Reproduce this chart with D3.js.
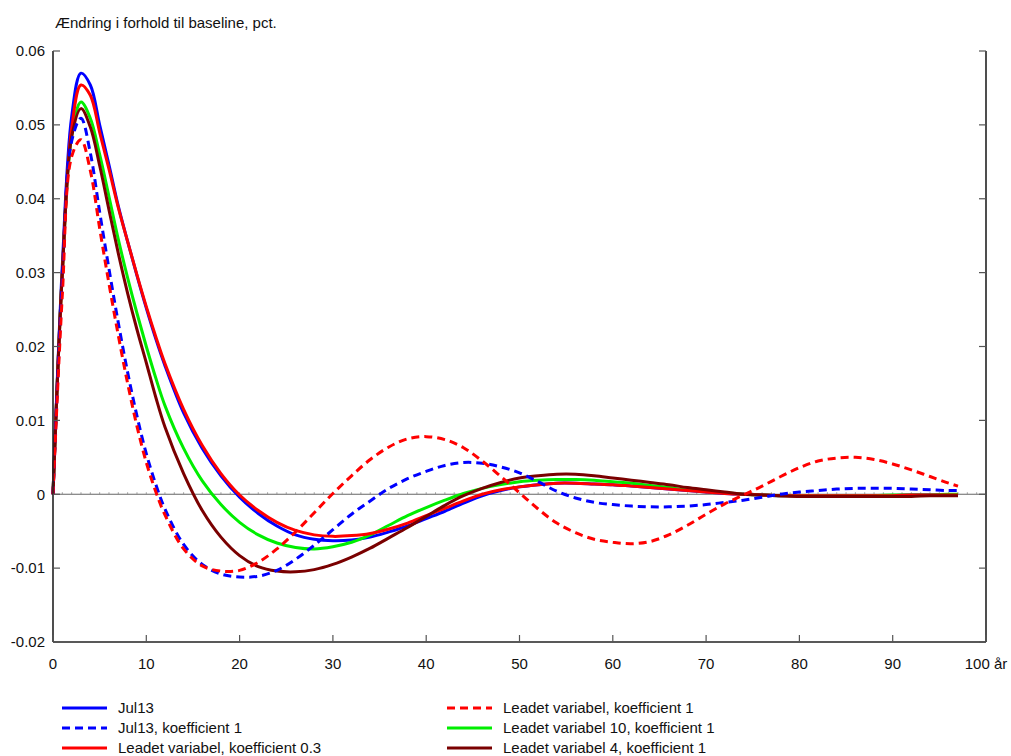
<!DOCTYPE html>
<html><head><meta charset="utf-8">
<script src="https://cdn.jsdelivr.net/npm/d3@7"></script>
<style>
body{margin:0;background:#fff;}
text{font-family:"Liberation Sans",Arial,sans-serif;fill:#111;}
</style></head>
<body><svg id="c" width="1011" height="756"></svg>
<script>
const years = [0,1,2,3,4,5,6,7,8,9,10,11,12,14,16,18,20,22,24,26,28,30,32,34,36,38,40,42,44,46,48,50,52,54,56,58,60,62,64,66,68,70,72,74,76,78,80,82,84,86,88,90,92,94,96,97];

const jul13 = [0,0.031,0.0511,0.0570,0.0554,0.0500,0.0446,0.0390,0.0342,0.0296,0.0252,0.0211,0.0174,0.0110,0.0062,0.0025,-0.0004,-0.0026,-0.0043,-0.0055,-0.0061,-0.0063,-0.0062,-0.0058,-0.0051,-0.0043,-0.0033,-0.0023,-0.0012,-0.0002,0.0005,0.0010,0.0013,0.0015,0.0015,0.0014,0.0013,0.0011,0.0009,0.0007,0.0005,0.0003,0.0001,0.0000,-0.0001,-0.0002,-0.0002,-0.0002,-0.0002,-0.0002,-0.0002,-0.0002,-0.0001,-0.0001,-0.0001,-0.0001];

const jul13Koef1 = [0,0.029,0.0478,0.0509,0.0462,0.0382,0.0305,0.0232,0.0165,0.0106,0.0055,0.0014,-0.0020,-0.0068,-0.0095,-0.0108,-0.0112,-0.0111,-0.0103,-0.0088,-0.0069,-0.0048,-0.0027,-0.0009,0.0008,0.0021,0.0031,0.0039,0.0043,0.0042,0.0037,0.0029,0.0017,0.0004,-0.0005,-0.0011,-0.0014,-0.0016,-0.0017,-0.0017,-0.0016,-0.0014,-0.0011,-0.0008,-0.0004,0.0000,0.0003,0.0005,0.0007,0.0008,0.0008,0.0008,0.0007,0.0006,0.0005,0.0005];

const leadKoef03 = [0,0.030,0.0495,0.0554,0.0540,0.0490,0.0440,0.0388,0.0342,0.0297,0.0254,0.0214,0.0177,0.0115,0.0066,0.0028,-0.0001,-0.0022,-0.0038,-0.0049,-0.0055,-0.0057,-0.0056,-0.0053,-0.0047,-0.0039,-0.0029,-0.0019,-0.0009,0.0000,0.0006,0.0010,0.0013,0.0015,0.0015,0.0014,0.0013,0.0011,0.0009,0.0007,0.0005,0.0003,0.0001,0.0000,-0.0001,-0.0002,-0.0002,-0.0002,-0.0002,-0.0002,-0.0002,-0.0002,-0.0001,-0.0001,-0.0001,-0.0001];

const leadKoef1 = [0,0.027,0.0457,0.0480,0.0438,0.0360,0.0285,0.0215,0.0150,0.0092,0.0043,0.0004,-0.0028,-0.0074,-0.0097,-0.0104,-0.0103,-0.0092,-0.0074,-0.0051,-0.0025,0.0001,0.0025,0.0047,0.0064,0.0075,0.0078,0.0074,0.0063,0.0045,0.0024,0.0002,-0.0020,-0.0039,-0.0052,-0.0061,-0.0065,-0.0067,-0.0064,-0.0055,-0.0042,-0.0027,-0.0013,-0.0001,0.0011,0.0024,0.0036,0.0045,0.0049,0.0050,0.0047,0.0041,0.0033,0.0024,0.0015,0.0011];

const lead10Koef1 = [0,0.030,0.0485,0.0531,0.0509,0.0460,0.0403,0.0345,0.0293,0.0245,0.0200,0.0158,0.0120,0.0062,0.0018,-0.0014,-0.0038,-0.0055,-0.0066,-0.0072,-0.0074,-0.0071,-0.0065,-0.0055,-0.0042,-0.0029,-0.0018,-0.0008,0.0001,0.0008,0.0013,0.0017,0.0019,0.0020,0.0020,0.0019,0.0017,0.0015,0.0012,0.0009,0.0006,0.0004,0.0002,0.0000,-0.0001,-0.0002,-0.0002,-0.0002,-0.0002,-0.0002,-0.0002,-0.0001,-0.0001,-0.0001,0.0000,0.0000];

const lead4Koef1 = [0,0.030,0.0484,0.0522,0.0497,0.0445,0.0385,0.0326,0.0272,0.0223,0.0178,0.0132,0.0091,0.0028,-0.0022,-0.0058,-0.0083,-0.0098,-0.0104,-0.0105,-0.0102,-0.0095,-0.0085,-0.0073,-0.0059,-0.0045,-0.0030,-0.0015,-0.0002,0.0008,0.0016,0.0022,0.0025,0.0027,0.0027,0.0025,0.0022,0.0019,0.0016,0.0013,0.0009,0.0006,0.0003,0.0000,-0.0001,-0.0002,-0.0003,-0.0003,-0.0003,-0.0003,-0.0003,-0.0003,-0.0003,-0.0002,-0.0002,-0.0002];

const xTicks = [0,10,20,30,40,50,60,70,80,90,100];
const xTickLabels = ["0","10","20","30","40","50","60","70","80","90","100 år"];
const yTicks = [0.06,0.05,0.04,0.03,0.02,0.01,0,-0.01,-0.02];
const yTickLabels = ["0.06","0.05","0.04","0.03","0.02","0.01","0","-0.01","-0.02"];
const title = "Ændring i forhold til baseline, pct.";

const series = [
  {name:"Jul13", values:jul13, color:"#0000ff", dash:null},
  {name:"Jul13, koefficient 1", values:jul13Koef1, color:"#0000ff", dash:"8,5"},
  {name:"Leadet variabel, koefficient 0.3", values:leadKoef03, color:"#ff0000", dash:null},
  {name:"Leadet variabel, koefficient 1", values:leadKoef1, color:"#ff0000", dash:"8,5"},
  {name:"Leadet variabel 10, koefficient 1", values:lead10Koef1, color:"#00ee00", dash:null},
  {name:"Leadet variabel 4, koefficient 1", values:lead4Koef1, color:"#7a0000", dash:null}
];
const drawOrder = [0,4,2,5,1,3];

const svg = d3.select("#c");
const L=53, R=986, T=51, B=642;
const x = d3.scaleLinear().domain([0,100]).range([L,R]);
const y = d3.scaleLinear().domain([-0.02,0.06]).range([B,T]);

// title
svg.append("text").attr("x",55).attr("y",28).attr("font-size",15).text(title);

// zero line with minor ticks
const zg = svg.append("g");
zg.append("line").attr("x1",x(0)).attr("x2",x(100)).attr("y1",y(0)).attr("y2",y(0))
  .attr("stroke","#666").attr("stroke-width",1.2);
zg.selectAll("line.m").data(d3.range(1,100)).join("line").attr("class","m")
  .attr("x1",d=>x(d)).attr("x2",d=>x(d)).attr("y1",y(0)).attr("y2",y(0)-2)
  .attr("stroke","#888").attr("stroke-width",0.8);

// lines
const line = d3.line().x((d,i)=>x(years[i])).y(d=>y(d)).curve(d3.curveCatmullRom.alpha(0.5));
drawOrder.forEach(k=>{
  const s = series[k];
  svg.append("path").attr("d",line(s.values)).attr("fill","none")
    .attr("stroke",s.color).attr("stroke-width",3)
    .attr("stroke-linejoin","miter")
    .attr("stroke-dasharray",s.dash);
});

// axes frame
const ax = svg.append("g").attr("stroke","#222").attr("stroke-width",1.6);
ax.append("line").attr("x1",L).attr("x2",L).attr("y1",T).attr("y2",B);
ax.append("line").attr("x1",R).attr("x2",R).attr("y1",T).attr("y2",B);
ax.append("line").attr("x1",L).attr("x2",R).attr("y1",B).attr("y2",B);

// ticks
const tg = svg.append("g").attr("stroke","#555").attr("stroke-width",1.2);
yTicks.forEach(v=>{
  tg.append("line").attr("x1",L).attr("x2",L+7).attr("y1",y(v)).attr("y2",y(v));
  tg.append("line").attr("x1",R).attr("x2",R-7).attr("y1",y(v)).attr("y2",y(v));
});
xTicks.forEach(v=>{
  tg.append("line").attr("x1",x(v)).attr("x2",x(v)).attr("y1",B).attr("y2",B-7);
});

// tick labels
svg.selectAll("text.yl").data(yTicks).join("text").attr("class","yl")
  .attr("x",45).attr("y",d=>y(d)).attr("dy","0.35em").attr("text-anchor","end")
  .attr("font-size",15).text((d,i)=>yTickLabels[i]);
svg.selectAll("text.xl").data(xTicks).join("text").attr("class","xl")
  .attr("x",d=>x(d)).attr("y",669).attr("text-anchor","middle")
  .attr("font-size",15).text((d,i)=>xTickLabels[i]);

// legend
const legendPos = [[0,0],[0,1],[0,2],[1,0],[1,1],[1,2]];
series.forEach((s,j)=>{
  const [c,r] = legendPos[j];
  const lx = c===0 ? 62 : 447;
  const ly = 708 + r*20;
  svg.append("line").attr("x1",lx).attr("x2",lx+45).attr("y1",ly).attr("y2",ly)
    .attr("stroke",s.color).attr("stroke-width",3).attr("stroke-dasharray",s.dash);
  svg.append("text").attr("x",lx+56).attr("y",ly).attr("dy","0.35em")
    .attr("font-size",15).text(s.name);
});
</script></body></html>
